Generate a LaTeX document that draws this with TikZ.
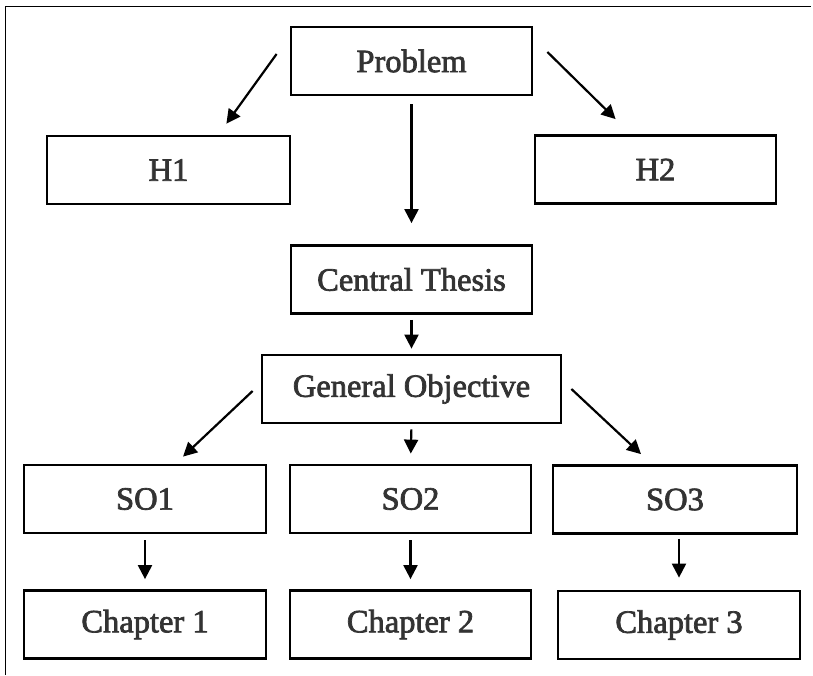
\documentclass[tikz,border=0pt]{standalone}
\usepackage{fontspec}
\setmainfont{Liberation Serif}[FakeBold=2.2]
\usetikzlibrary{arrows.meta,calc}
\begin{document}
\begin{tikzpicture}[x=1pt,y=-1pt,
  box/.style={draw=black,line width=2.8pt,rectangle,inner sep=0pt,
    minimum height=68pt,font=\fontsize{32.5}{36}\selectfont,text=black!80},
  flow/.style={line width=2.2pt,-{Triangle[length=14pt,width=14pt]}}]
  \useasboundingbox (0,0) rectangle (813,675);
  % surrounding frame (open at the right and bottom)
  \draw[line width=1pt] (5,675) -- (5,6) -- (811,6);
  % boxes
  \node[box,minimum width=241pt] (prob) at (411.5,61) {Problem};
  \node[box,minimum width=243pt] (h1) at (168.5,170) {H1};
  \node[box,minimum width=241pt] (h2) at (655.5,169.5) {H2};
  \node[box,minimum width=241pt] (thesis) at (411.5,279.5) {Central Thesis};
  \node[box,minimum width=299pt] (gen) at (411.5,389) {General Objective};
  \node[box,minimum width=242pt] (so1) at (145,499) {SO1};
  \node[box,minimum width=241pt] (so2) at (410.5,499) {SO2};
  \node[box,minimum width=244pt] (so3) at (675,499.5) {SO3};
  \node[box,minimum width=242pt] (ch1) at (145,624.5) {Chapter 1};
  \node[box,minimum width=241pt] (ch2) at (410.5,624.5) {Chapter 2};
  \node[box,minimum width=242pt] (ch3) at (679,625) {Chapter 3};
  % connectors
  \draw[flow] ($(prob.west)+(-13,-7)$) -- ($(h1.north east)+(-65,-11)$);
  \draw[flow] ($(prob.east)+(14,-9)$) -- ($(h2.north west)+(82,-15)$);
  \draw[flow,shorten <=8pt,shorten >=21pt] (prob.south) -- (thesis.north);
  \draw[flow,shorten <=5pt,shorten >=5pt] (thesis.south) -- (gen.north);
  \draw[flow] ($(gen.west)+(-8,2)$) -- ($(so1.north)+(38,-7)$);
  \draw[flow,shorten <=5pt,shorten >=10pt] (gen.south) -- (so2.north);
  \draw[flow] ($(gen.east)+(9,0)$) -- ($(so3.north)+(-34,-10)$);
  \draw[flow,shorten <=6pt,shorten >=10pt] (so1.south) -- (ch1.north);
  \draw[flow,shorten <=6pt,shorten >=10pt] (so2.south) -- (ch2.north);
  \draw[flow,shorten <=4pt,shorten >=12pt] ($(so3.south)+(4,0)$) -- (ch3.north);
\end{tikzpicture}
\end{document}
